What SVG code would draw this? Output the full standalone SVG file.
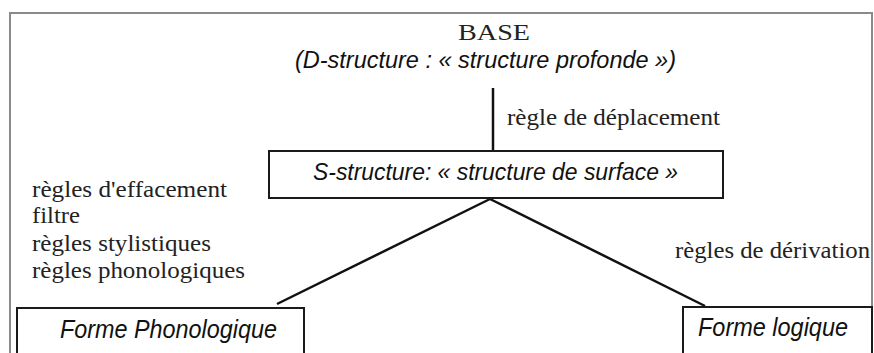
<svg xmlns="http://www.w3.org/2000/svg" width="874" height="353" viewBox="0 0 874 353">
<style>
.frame{fill:none;stroke:#8a8a8a;stroke-width:2}
.box{fill:#fff;stroke:#1a1a1a;stroke-width:2}
.edge{fill:none;stroke:#111;stroke-width:2.5}
.serif{font-family:"Liberation Serif","Times New Roman",serif;font-size:23px;fill:#222}
.sans{font-family:"Liberation Sans",Arial,sans-serif;font-style:italic;fill:#111}
</style>
<rect width="874" height="353" fill="#fff"/>
<path class="frame" d="M10,360 V13 H872 V360"/>
<g id="base">
<text class="serif" x="494" y="40" text-anchor="middle" font-size="25" textLength="72" lengthAdjust="spacingAndGlyphs">BASE</text>
<text class="sans" x="295" y="68" font-size="23" textLength="381" lengthAdjust="spacingAndGlyphs">(D-structure : « structure profonde »)</text>
</g>
<g id="connectors">
<line class="edge" x1="493" y1="88" x2="493" y2="151" stroke-width="1.8"/>
<line class="edge" x1="490" y1="199" x2="277" y2="304"/>
<line class="edge" x1="490" y1="199" x2="705" y2="306"/>
<text class="serif" x="507" y="125" textLength="213" lengthAdjust="spacingAndGlyphs">règle de déplacement</text>
<text class="serif" x="32" y="197" textLength="195" lengthAdjust="spacingAndGlyphs">règles d'effacement</text>
<text class="serif" x="32" y="223" textLength="48" lengthAdjust="spacingAndGlyphs">filtre</text>
<text class="serif" x="32" y="251" textLength="179" lengthAdjust="spacingAndGlyphs">règles stylistiques</text>
<text class="serif" x="32" y="278" textLength="213" lengthAdjust="spacingAndGlyphs">règles phonologiques</text>
<text class="serif" x="675" y="258" textLength="195" lengthAdjust="spacingAndGlyphs">règles de dérivation</text>
</g>
<g id="s-structure">
<rect class="box" x="269" y="151" width="454" height="47"/>
<text class="sans" x="313" y="180" font-size="24" textLength="365" lengthAdjust="spacingAndGlyphs">S-structure: « structure de surface »</text>
</g>
<g id="forme-phonologique">
<rect class="box" x="17" y="308" width="287" height="60"/>
<text class="sans" x="60" y="338" font-size="25" textLength="217" lengthAdjust="spacingAndGlyphs">Forme Phonologique</text>
</g>
<g id="forme-logique">
<rect class="box" x="683" y="307" width="189" height="60"/>
<text class="sans" x="698" y="336" font-size="25" textLength="150" lengthAdjust="spacingAndGlyphs">Forme logique</text>
</g>
</svg>
